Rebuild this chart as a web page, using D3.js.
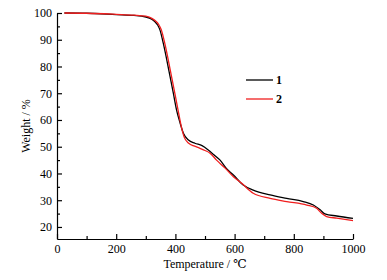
<!DOCTYPE html>
<html>
<head>
<meta charset="utf-8">
<script src="https://cdn.jsdelivr.net/npm/d3@7"></script>
<style>
  body { margin: 0; background: #fff; }
  svg { display: block; }
  .axis text { font-family: "Liberation Serif", "DejaVu Serif", serif; font-size: 12px; fill: #000; }
  .axis path, .axis line { stroke: #000; stroke-width: 1.2; }
</style>
</head>
<body>
<svg class="chart" width="387" height="280"></svg>
<script>
const W = 387, H = 280;
const X0 = 57, X1 = 353, Y0 = 239, Y1 = 13;

// sample 1 (black)
const temp1 = [25, 100, 200, 260, 297, 320, 331, 340, 348, 359, 371, 382, 393, 404, 416, 427, 444, 466, 490, 511, 530, 551, 573, 596, 629, 663, 720, 776, 832, 866, 889, 905, 945, 1000];
const weight1 = [100, 99.9, 99.4, 99.1, 98.6, 97.7, 96.7, 95.5, 93.6, 88.7, 82.4, 76.2, 70, 63.7, 58.8, 55, 52.5, 51.3, 50.4, 48.8, 47, 45, 41.8, 39.4, 35.7, 33.8, 32, 30.7, 29.5, 28.2, 26.4, 24.9, 24.1, 23.2];

// sample 2 (red)
const temp2 = [25, 100, 200, 260, 300, 322, 335, 344, 352, 364, 376, 387, 398, 409, 420, 430, 445, 465, 483, 500, 517, 539, 568, 596, 624, 663, 720, 776, 844, 877, 895, 911, 945, 1000];
const weight2 = [100, 99.9, 99.5, 99.2, 98.8, 97.9, 96.8, 95.6, 93.8, 88.7, 82.4, 76.2, 70, 63.7, 57.5, 53.5, 51.3, 50.2, 49.4, 48.6, 47.6, 45, 42, 38.8, 36.3, 32.6, 30.7, 29.5, 28.2, 27, 25, 23.9, 23.3, 22.4];

const seriesNames = ["1", "2"];
const seriesColors = ["#000000", "#f01e1e"];

const xTicks = [0, 200, 400, 600, 800, 1000];
const yTicks = [20, 30, 40, 50, 60, 70, 80, 90, 100];

const svg = d3.select(".chart");
svg.append("rect").attr("width", W).attr("height", H).attr("fill", "#fff");

const x = d3.scaleLinear().domain([0, 1000]).range([X0, X1]);
const y = d3.scaleLinear().domain([15.5, 100]).range([Y0, Y1]);

// minor ticks
svg.append("g")
    .attr("class", "axis")
    .attr("transform", `translate(0, ${Y0})`)
    .call(d3.axisBottom(x).tickValues(d3.range(100, 1000, 200)).tickSize(-3).tickFormat(""))
    .call(g => g.select(".domain").remove());
svg.append("g")
    .attr("class", "axis")
    .attr("transform", `translate(${X0}, 0)`)
    .call(d3.axisLeft(y).tickValues(d3.range(25, 100, 10)).tickSize(-3).tickFormat(""))
    .call(g => g.select(".domain").remove());

// major ticks
svg.append("g")
    .attr("class", "axis")
    .attr("transform", `translate(0, ${Y0})`)
    .call(d3.axisBottom(x).tickValues(xTicks).tickSizeInner(-5).tickSizeOuter(0).tickPadding(5).tickFormat(d3.format("d")));

svg.append("g")
    .attr("class", "axis")
    .attr("transform", `translate(${X0}, 0)`)
    .call(d3.axisLeft(y).tickValues(yTicks).tickSizeInner(-5).tickSizeOuter(0).tickPadding(5).tickFormat(d3.format("d")));

// axis titles
svg.append("text")
    .attr("x", (X0 + X1) / 2)
    .attr("y", 268)
    .attr("text-anchor", "middle")
    .style("font-family", "Liberation Serif, DejaVu Serif, serif")
    .style("font-size", "12px")
    .text("Temperature / ℃");

svg.append("text")
    .attr("transform", `translate(30, ${(Y0 + Y1) / 2}) rotate(-90)`)
    .attr("text-anchor", "middle")
    .style("font-family", "Liberation Serif, DejaVu Serif, serif")
    .style("font-size", "12px")
    .text("Weight / %");

// curves
const line = d3.line()
    .x(d => x(d[0]))
    .y(d => y(d[1]))
    .curve(d3.curveMonotoneX);

const series = [d3.zip(temp1, weight1), d3.zip(temp2, weight2)];

series.forEach((s, i) => {
    svg.append("path")
        .datum(s)
        .attr("fill", "none")
        .attr("stroke", seriesColors[i])
        .attr("stroke-width", 1.3)
        .attr("d", line);
});

// legend
const legend = svg.append("g").attr("transform", "translate(246, 80)");
seriesNames.forEach((n, i) => {
    legend.append("line")
        .attr("x1", 0).attr("x2", 27)
        .attr("y1", i * 19).attr("y2", i * 19)
        .attr("stroke", seriesColors[i])
        .attr("stroke-width", 1.3);
    legend.append("text")
        .attr("x", 30)
        .attr("y", i * 19 + 4)
        .style("font-family", "Liberation Serif, DejaVu Serif, serif")
        .style("font-size", "12px")
        .style("font-weight", "bold")
        .text(n);
});
</script>
</body>
</html>
